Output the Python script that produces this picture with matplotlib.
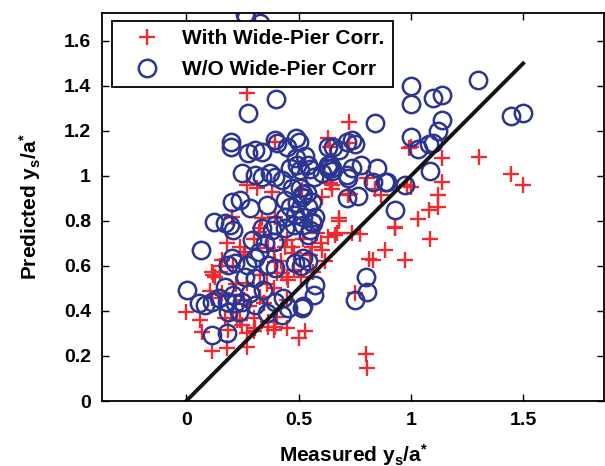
import numpy as np
import matplotlib
matplotlib.use("Agg")
import matplotlib.pyplot as plt

plt.rcParams["font.family"] = ["Liberation Sans", "DejaVu Sans"]
plt.rcParams["font.weight"] = "bold"
plt.rcParams["mathtext.fontset"] = "custom"
plt.rcParams["mathtext.rm"] = "Liberation Sans:bold"
plt.rcParams["mathtext.sf"] = "Liberation Sans:bold"
plt.rcParams["mathtext.bf"] = "Liberation Sans:bold"
plt.rcParams["mathtext.default"] = "bf"

# con correccion de pila ancha (cruces)
con_x = [0.27, 0.725, 0.396, 0.633, 0.64, 0.725, 0.99, 1.0, 1.14, 1.305, 1.445, 1.50,
         1.14, 1.0, 0.985, 1.12, 1.08, 1.12, 1.03, 0.93, 1.085,
         0.27, 0.315, 0.381, 0.648, 0.648, 0.604, 0.515, 0.678, 0.722, 0.337, 0.396,
         0.203, 0.64, 0.805, 0.865, 0.73, 0.84,
         0.68, 0.67, 0.74, 0.775, 0.885, 0.975, 0.815, 0.83, 0.75, 0.80, 0.805, 0.53,
         0.50, 0.93,
         0.0, 0.062, 0.07, 0.114, 0.129, 0.151, 0.174, 0.188, 0.248, 0.27, 0.307,
         0.366, 0.396, 0.255, 0.44, 0.47, 0.478, 0.604, 0.559, 0.426, 0.455, 0.663,
         0.114, 0.159, 0.322, 0.366, 0.396,
         0.115, 0.18, 0.27, 0.30, 0.39, 0.60, 0.63, 0.565, 0.51, 0.39, 0.345, 0.30,
         0.24, 0.12, 0.15, 0.105, 0.21, 0.24, 0.33, 0.39, 0.45, 0.52, 0.58, 0.45,
         0.405, 0.33, 0.27, 0.255, 0.21, 0.45, 0.405, 0.365, 0.45, 0.225,
         0.22, 0.16, 0.28, 0.33, 0.36, 0.42, 0.48, 0.26, 0.18, 0.30, 0.55, 0.62]
con_y = [1.37, 1.24, 1.152, 1.167, 1.13, 1.145, 1.125, 1.13, 1.08, 1.085, 1.01, 0.96,
         0.975, 0.95, 0.96, 0.915, 0.85, 0.86, 0.81, 0.775, 0.72,
         0.96, 0.945, 0.93, 0.96, 0.94, 0.908, 0.938, 0.812, 0.916, 0.812, 0.819,
         0.819, 0.97, 0.99, 0.915, 0.92, 0.94,
         0.80, 0.745, 0.745, 0.74, 0.67, 0.625, 0.63, 0.625, 0.48, 0.21, 0.145, 0.31,
         0.28, 0.77,
         0.395, 0.36, 0.308, 0.456, 0.552, 0.575, 0.368, 0.316, 0.338, 0.301, 0.323,
         0.352, 0.33, 0.649, 0.686, 0.686, 0.656, 0.671, 0.686, 0.567, 0.538, 0.738,
         0.575, 0.627, 0.753, 0.679, 0.619,
         0.22, 0.235, 0.24, 0.31, 0.315, 0.70, 0.73, 0.575, 0.55, 0.50, 0.435, 0.37,
         0.36, 0.56, 0.60, 0.49, 0.60, 0.685, 0.77, 0.67, 0.715, 0.72, 0.745, 0.55,
         0.57, 0.56, 0.525, 0.45, 0.395, 0.45, 0.375, 0.33, 0.325, 0.36,
         0.52, 0.48, 0.42, 0.46, 0.52, 0.62, 0.58, 0.66, 0.70, 0.72, 0.65, 0.62]

# sin correccion (circulos)
sin_x = [0.263, 0.265, 0.33, 0.40, 0.275,
         0.20, 0.20, 0.277, 0.307, 0.337, 0.396, 0.404, 0.448, 0.49, 0.503, 0.633,
         0.655, 0.678, 0.715, 0.74, 0.75,
         0.84, 1.0, 1.0, 1.10, 1.14, 1.14, 1.12, 1.0, 1.03, 1.08, 1.10, 1.085, 0.975,
         0.93, 1.30, 1.445, 1.50, 0.85, 0.885,
         0.248, 0.307, 0.337, 0.374, 0.396, 0.426, 0.463, 0.49, 0.53, 0.493, 0.507,
         0.544, 0.55, 0.567, 0.604, 0.63, 0.64, 0.633, 0.648, 0.648, 0.715, 0.74,
         0.78, 0.83, 0.895, 0.765, 0.722, 0.715,
         0.203, 0.24, 0.285, 0.359, 0.44, 0.463, 0.493, 0.515, 0.52, 0.544, 0.559,
         0.47, 0.507, 0.537,
         0.44, 0.485, 0.522, 0.574, 0.122, 0.174, 0.21, 0.195,
         0.067, 0.292, 0.337, 0.381, 0.396, 0.44, 0.478, 0.522, 0.544, 0.559, 0.565,
         0.55,
         0.352, 0.389, 0.322, 0.203, 0.218, 0.188, 0.307, 0.27, 0.396, 0.366, 0.485,
         0.522, 0.54, 0.51,
         0.263, 0.307, 0.003, 0.174, 0.21, 0.285, 0.344, 0.055, 0.085, 0.114, 0.144,
         0.181, 0.218, 0.248, 0.188, 0.233, 0.307, 0.396, 0.433, 0.455, 0.426, 0.359,
         0.515, 0.574, 0.567, 0.114, 0.181, 0.52,
         0.80, 0.805, 0.75]
sin_y = [1.72, 1.705, 1.68, 1.34, 1.28,
         1.15, 1.13, 1.10, 1.115, 1.108, 1.16, 1.145, 1.13, 1.17, 1.15, 1.13,
         1.13, 1.115, 1.15, 1.16, 1.14,
         1.235, 1.40, 1.32, 1.345, 1.36, 1.25, 1.20, 1.175, 1.12, 1.14, 1.145, 1.02, 0.96,
         0.85, 1.425, 1.265, 1.28, 1.035, 0.975,
         1.012, 1.004, 0.997, 1.012, 0.997, 0.982, 1.034, 1.08, 1.09, 1.049, 1.027,
         1.049, 1.03, 0.997, 1.012, 1.035, 1.05, 1.049, 1.034, 1.02, 1.004, 1.035,
         1.05, 0.975, 0.975, 0.91, 0.99, 0.90,
         0.886, 0.893, 0.856, 0.871, 0.893, 0.864, 0.879, 0.908, 0.92, 0.864, 0.886,
         0.945, 0.945, 0.923,
         0.819, 0.827, 0.819, 0.819, 0.797, 0.79, 0.76, 0.78,
         0.671, 0.716, 0.768, 0.76, 0.782, 0.768, 0.782, 0.782, 0.738, 0.797, 0.79,
         0.76,
         0.701, 0.708, 0.664, 0.634, 0.612, 0.604, 0.634, 0.604, 0.59, 0.604, 0.612,
         0.634, 0.62, 0.60,
         0.552, 0.545, 0.493, 0.508, 0.471, 0.479, 0.493, 0.434, 0.427, 0.441, 0.456,
         0.441, 0.434, 0.441, 0.397, 0.397, 0.427, 0.441, 0.456, 0.412, 0.382, 0.39,
         0.412, 0.516, 0.471, 0.293, 0.301, 0.42,
         0.55, 0.485, 0.45]

# linea 1:1
linea_x = [0, 1.5]
linea_y = [0, 1.5]

rojo = "#ee2b30"
azul = "#2c3591"

fig = plt.figure(figsize=(6.05, 4.66), dpi=100)
ax = fig.add_axes([102 / 605, 1 - 401 / 466, 502 / 605, 388 / 466])

ax.plot(con_x, con_y, "+", color=rojo, ms=12, mew=1.7, label="With Wide-Pier Corr.")
ax.plot(sin_x, sin_y, "o", mfc="none", mec=azul, ms=12.5, mew=1.8,
        label="W/O Wide-Pier Corr")
ax.plot(linea_x, linea_y, "-", color="#151515", lw=2.8)

ax.set_xlim(-0.375, 1.86)
ax.set_ylim(0, 1.724)
ax.set_xticks([0, 0.5, 1, 1.5])
ax.set_xticklabels(["0", "0.5", "1", "1.5"])
ax.set_yticks([0, 0.2, 0.4, 0.6, 0.8, 1.0, 1.2, 1.4, 1.6])
ax.set_yticklabels(["0", "0.2", "0.4", "0.6", "0.8", "1", "1.2", "1.4", "1.6"])
ax.tick_params(direction="in", length=5, width=1, top=True, right=True,
               labelsize=14, pad=8)
for s in ax.spines.values():
    s.set_linewidth(1.3)

ax.set_xlabel(r"Measured y$_\mathsf{s}$/a$^{*}$", fontsize=15, fontweight="bold",
              labelpad=9)
ax.set_ylabel(r"Predicted y$_\mathsf{s}$/a$^{*}$", fontsize=15, fontweight="bold",
              labelpad=15)

leg = ax.legend(loc="upper left", bbox_to_anchor=(0.02, 0.979), borderaxespad=0,
                fancybox=False, edgecolor="black", framealpha=1, fontsize=15,
                handlelength=2.6, handletextpad=0.37, borderpad=0.4,
                labelspacing=0.55)
leg.get_frame().set_linewidth(1.3)

fig.savefig("out.png", dpi=100)
